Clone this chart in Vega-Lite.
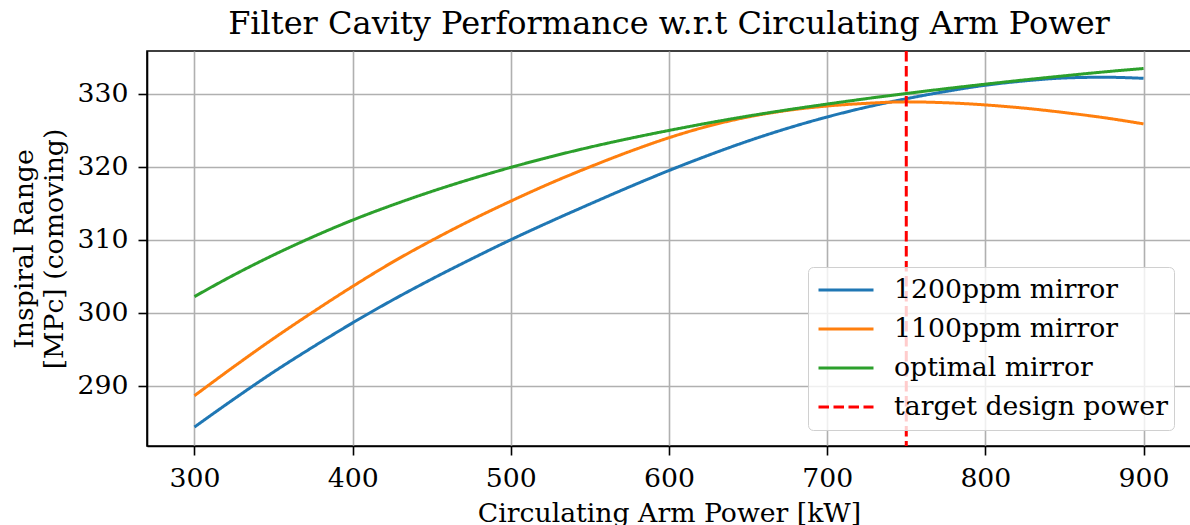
{
  "$schema": "https://vega.github.io/schema/vega-lite/v6.json",
  "width": 1044,
  "height": 395,
  "autosize": {"type": "none"},
  "padding": {"left": 147, "top": 51, "right": 0, "bottom": 79},
  "background": "white",
  "config": {
    "font": "DejaVu Serif",
    "view": {"stroke": "black", "strokeWidth": 1.6},
    "legend": {
      "symbolType": "stroke",
      "symbolSize": 3025,
      "symbolStrokeWidth": 3,
      "labelFont": "DejaVu Serif",
      "labelFontSize": 26.7,
      "labelColor": "black",
      "labelLimit": 500,
      "labelOffset": 19,
      "symbolOffset": 3,
      "clipHeight": 34,
      "rowPadding": 5,
      "padding": 6,
      "strokeColor": "#d0d0d0",
      "fillColor": "rgba(255,255,255,0.8)",
      "cornerRadius": 5
    }
  },
  "title": {
    "text": "Filter Cavity Performance w.r.t Circulating Arm Power",
    "font": "DejaVu Serif",
    "fontSize": 32,
    "fontWeight": "normal",
    "color": "black",
    "anchor": "middle",
    "frame": "group",
    "baseline": "alphabetic",
    "offset": 16,
    "dy": 32
  },
  "layer": [
    {
      "data": {
        "values": [
          {"series": "1200ppm mirror", "power": 300, "range": 284.3},
          {"series": "1200ppm mirror", "power": 325, "range": 288.15},
          {"series": "1200ppm mirror", "power": 350, "range": 291.85},
          {"series": "1200ppm mirror", "power": 375, "range": 295.3},
          {"series": "1200ppm mirror", "power": 400, "range": 298.6},
          {"series": "1200ppm mirror", "power": 425, "range": 301.7},
          {"series": "1200ppm mirror", "power": 450, "range": 304.6},
          {"series": "1200ppm mirror", "power": 475, "range": 307.35},
          {"series": "1200ppm mirror", "power": 500, "range": 310.0},
          {"series": "1200ppm mirror", "power": 525, "range": 312.5},
          {"series": "1200ppm mirror", "power": 550, "range": 314.9},
          {"series": "1200ppm mirror", "power": 575, "range": 317.25},
          {"series": "1200ppm mirror", "power": 600, "range": 319.5},
          {"series": "1200ppm mirror", "power": 625, "range": 321.6},
          {"series": "1200ppm mirror", "power": 650, "range": 323.55},
          {"series": "1200ppm mirror", "power": 675, "range": 325.3},
          {"series": "1200ppm mirror", "power": 700, "range": 326.85},
          {"series": "1200ppm mirror", "power": 725, "range": 328.2},
          {"series": "1200ppm mirror", "power": 750, "range": 329.35},
          {"series": "1200ppm mirror", "power": 775, "range": 330.35},
          {"series": "1200ppm mirror", "power": 800, "range": 331.2},
          {"series": "1200ppm mirror", "power": 825, "range": 331.8},
          {"series": "1200ppm mirror", "power": 850, "range": 332.2},
          {"series": "1200ppm mirror", "power": 875, "range": 332.3},
          {"series": "1200ppm mirror", "power": 900, "range": 332.15},
          {"series": "1100ppm mirror", "power": 300, "range": 288.6},
          {"series": "1100ppm mirror", "power": 325, "range": 292.6},
          {"series": "1100ppm mirror", "power": 350, "range": 296.45},
          {"series": "1100ppm mirror", "power": 375, "range": 300.1},
          {"series": "1100ppm mirror", "power": 400, "range": 303.6},
          {"series": "1100ppm mirror", "power": 425, "range": 306.9},
          {"series": "1100ppm mirror", "power": 450, "range": 309.9},
          {"series": "1100ppm mirror", "power": 475, "range": 312.7},
          {"series": "1100ppm mirror", "power": 500, "range": 315.3},
          {"series": "1100ppm mirror", "power": 525, "range": 317.75},
          {"series": "1100ppm mirror", "power": 550, "range": 320.0},
          {"series": "1100ppm mirror", "power": 575, "range": 322.1},
          {"series": "1100ppm mirror", "power": 600, "range": 324.0},
          {"series": "1100ppm mirror", "power": 625, "range": 325.6},
          {"series": "1100ppm mirror", "power": 650, "range": 326.85},
          {"series": "1100ppm mirror", "power": 675, "range": 327.75},
          {"series": "1100ppm mirror", "power": 700, "range": 328.35},
          {"series": "1100ppm mirror", "power": 725, "range": 328.72},
          {"series": "1100ppm mirror", "power": 750, "range": 328.92},
          {"series": "1100ppm mirror", "power": 775, "range": 328.8},
          {"series": "1100ppm mirror", "power": 800, "range": 328.5},
          {"series": "1100ppm mirror", "power": 825, "range": 328.05},
          {"series": "1100ppm mirror", "power": 850, "range": 327.45},
          {"series": "1100ppm mirror", "power": 875, "range": 326.75},
          {"series": "1100ppm mirror", "power": 900, "range": 325.9},
          {"series": "optimal mirror", "power": 300, "range": 302.2},
          {"series": "optimal mirror", "power": 325, "range": 305.18},
          {"series": "optimal mirror", "power": 350, "range": 307.91},
          {"series": "optimal mirror", "power": 375, "range": 310.41},
          {"series": "optimal mirror", "power": 400, "range": 312.7},
          {"series": "optimal mirror", "power": 425, "range": 314.75},
          {"series": "optimal mirror", "power": 450, "range": 316.63},
          {"series": "optimal mirror", "power": 475, "range": 318.35},
          {"series": "optimal mirror", "power": 500, "range": 319.93},
          {"series": "optimal mirror", "power": 525, "range": 321.38},
          {"series": "optimal mirror", "power": 550, "range": 322.7},
          {"series": "optimal mirror", "power": 575, "range": 323.9},
          {"series": "optimal mirror", "power": 600, "range": 325.0},
          {"series": "optimal mirror", "power": 625, "range": 326.03},
          {"series": "optimal mirror", "power": 650, "range": 326.97},
          {"series": "optimal mirror", "power": 675, "range": 327.83},
          {"series": "optimal mirror", "power": 700, "range": 328.62},
          {"series": "optimal mirror", "power": 725, "range": 329.37},
          {"series": "optimal mirror", "power": 750, "range": 330.07},
          {"series": "optimal mirror", "power": 775, "range": 330.73},
          {"series": "optimal mirror", "power": 800, "range": 331.35},
          {"series": "optimal mirror", "power": 825, "range": 331.94},
          {"series": "optimal mirror", "power": 850, "range": 332.5},
          {"series": "optimal mirror", "power": 875, "range": 333.03},
          {"series": "optimal mirror", "power": 900, "range": 333.5}
        ]
      },
      "mark": {"type": "line", "strokeWidth": 3, "interpolate": "monotone"},
      "encoding": {
        "x": {
          "field": "power",
          "type": "quantitative",
          "scale": {"domain": [270, 930], "nice": false, "zero": false},
          "axis": {
            "values": [300, 400, 500, 600, 700, 800, 900],
            "title": "Circulating Arm Power [kW]",
            "titleFont": "DejaVu Serif",
            "titleFontSize": 26.7,
            "titleFontWeight": "normal",
            "titleColor": "black",
            "titleBaseline": "alphabetic",
            "titleY": 75,
            "labelFont": "DejaVu Serif",
            "labelFontSize": 26.7,
            "labelColor": "black",
            "labelPadding": 10,
            "labelFlush": false,
            "labelOverlap": false,
            "tickSize": 9,
            "tickWidth": 1.6,
            "tickColor": "black",
            "domainColor": "black",
            "domainWidth": 1.6,
            "grid": true,
            "gridColor": "#b0b0b0",
            "gridWidth": 1.6
          }
        },
        "y": {
          "field": "range",
          "type": "quantitative",
          "scale": {"domain": [281.7, 335.9], "nice": false, "zero": false},
          "axis": {
            "values": [290, 300, 310, 320, 330],
            "title": ["Inspiral Range", "[MPc] (comoving)"],
            "titleFont": "DejaVu Serif",
            "titleFontSize": 26.7,
            "titleFontWeight": "normal",
            "titleColor": "black",
            "titleAngle": 270,
            "titleAlign": "center",
            "titleBaseline": "alphabetic",
            "titleLineHeight": 30,
            "titleX": -115,
            "titleY": 197.5,
            "labelFont": "DejaVu Serif",
            "labelFontSize": 26.7,
            "labelColor": "black",
            "labelPadding": 10,
            "labelFlush": false,
            "labelOverlap": false,
            "tickSize": 9,
            "tickWidth": 1.6,
            "tickColor": "black",
            "domainColor": "black",
            "domainWidth": 1.6,
            "grid": true,
            "gridColor": "#b0b0b0",
            "gridWidth": 1.6
          }
        },
        "color": {
          "field": "series",
          "type": "nominal",
          "scale": {
            "domain": ["1200ppm mirror", "1100ppm mirror", "optimal mirror", "target design power"],
            "range": ["#1f77b4", "#ff7f0e", "#2ca02c", "#ff0000"]
          },
          "legend": {"title": null, "orient": "none", "legendX": 661, "legendY": 216}
        },
        "strokeDash": {
          "field": "series",
          "type": "nominal",
          "scale": {
            "domain": ["1200ppm mirror", "1100ppm mirror", "optimal mirror", "target design power"],
            "range": [[1, 0], [1, 0], [1, 0], [10.5, 4.5]]
          },
          "legend": {"title": null, "orient": "none", "legendX": 661, "legendY": 216}
        }
      }
    },
    {
      "data": {"values": [{"series": "target design power", "power": 750}]},
      "mark": {"type": "rule", "strokeWidth": 3},
      "encoding": {
        "x": {"field": "power", "type": "quantitative"},
        "color": {"field": "series", "type": "nominal"},
        "strokeDash": {"field": "series", "type": "nominal"}
      }
    }
  ]
}
